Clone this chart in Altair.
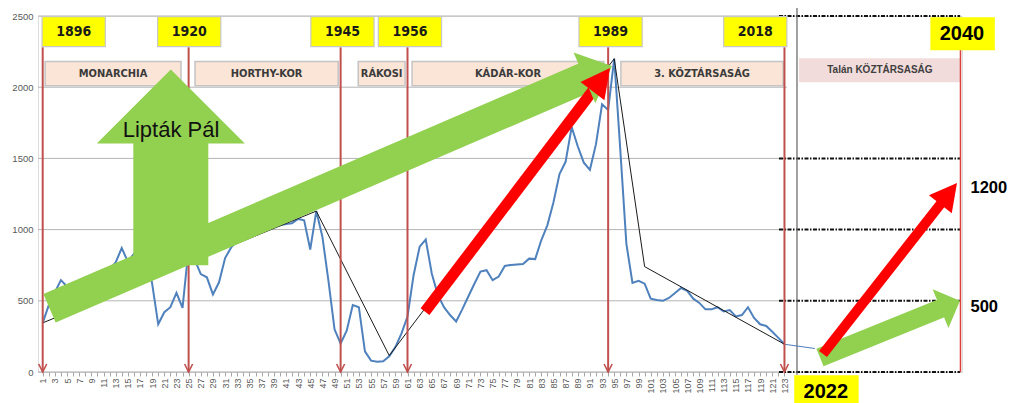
import math
import altair as alt
import pandas as pd

# ---------------- data ----------------
idx = list(range(1, 124))
values = [345, 470, 560, 645, 600, 560, 590, 620, 650, 640,
          690, 720, 770, 870, 775, 830, 880, 850, 620, 335,
          420, 455, 555, 450, 870, 790, 688, 665, 545, 630,
          800, 875, 920, 960, 985, 1000, 1010, 1000, 1020, 1030,
          1040, 1045, 1075, 1065, 860, 1130, 950, 640, 300, 200,
          290, 470, 455, 145, 80, 72, 75, 110, 175, 270,
          390, 680, 880, 930, 690, 540, 455, 400, 355, 440,
          530, 620, 705, 715, 645, 670, 745, 752, 755, 758,
          796, 793, 925, 1030, 1190, 1390, 1476, 1720, 1585, 1470,
          1420, 1600, 1880, 1840, 2200, 1560, 900, 625, 640, 620,
          515, 505, 500, 520, 555, 590, 570, 515, 485, 440,
          440, 455, 425, 435, 390, 400, 455, 380, 335, 323,
          283, 240, 195]
ext_idx = [123, 128]
ext_val = [195, 165]
trend_idx = [1, 46, 58, 95, 100, 123]
trend_val = [345, 1130, 115, 2200, 740, 195]

year_labels = ["1896", "1920", "1945", "1956", "1989", "2018"]
year_idx = [1, 25, 50, 61, 94, 123]
year_box_center = [6.1, 25.1, 50.3, 61.4, 94.4, 118.2]

period_labels = ["MONARCHIA", "HORTHY-KOR", "RÁKOSI", "KÁDÁR-KOR", "3. KÖZTÁRSASÁG"]
period_start = [1.4, 26.05, 52.9, 61.75, 96.1]
period_end = [23.75, 49.6, 60.6, 93.3, 122.8]
future_label = "Talán KÖZTÁRSASÁG"
future_span = [125.4, 152.0]

future_year = "2040"
future_year_idx = 152.2
now_year = "2022"
now_year_idx = 129.8
target_labels = ["1200", "500"]
target_values = [1293, 454]
author = "Lipták Pál"

y_ticks = [0, 500, 1000, 1500, 2000, 2500]
dotted_levels = [0, 500, 1000, 1500, 2500]

# ---------------- scale geometry ----------------
X0, X1 = 0.227, 152.2
Y0, Y1 = 0, 2500
W, H = 924, 356


def px(x):
    return (x - X0) / (X1 - X0) * W


def py(v):
    return H - (v - Y0) / (Y1 - Y0) * H


def ix(p):
    return X0 + p / W * (X1 - X0)


def iy(p):
    return Y0 + (H - p) / H * (Y1 - Y0)


xs = alt.Scale(domain=[X0, X1], nice=False, zero=False)
ys = alt.Scale(domain=[Y0, Y1], nice=False, zero=False)

BLUE = "#4F81BD"
VRED = "#C0504D"
GREEN = "#92D050"
RED = "#FF0000"
NARROW = "'Liberation Sans Narrow', 'DejaVu Sans Condensed', sans-serif"
ARIAL = "'Liberation Sans', Arial, sans-serif"

XAXIS = alt.Axis(
    values=list(range(1, 124)),
    labelExpr="datum.value % 2 == 1 ? datum.label : ''",
    labelAngle=270, labelFontSize=9, labelColor="#595959", labelFont=ARIAL,
    tickSize=4, tickColor="#A6A6A6", domain=False, grid=False, title=None,
    labelOverlap=False, labelFlush=False, labelPadding=2, format="d")
YAXIS = alt.Axis(
    values=y_ticks, grid=False, domain=False, ticks=False, labelPadding=5,
    labelFontSize=9.5, labelColor="#595959", labelFont=ARIAL, title=None, format="d")


def X(f):
    return alt.X(f, scale=xs, axis=XAXIS, title=None)


def Y(f):
    return alt.Y(f, scale=ys, axis=YAXIS, title=None)


# ---------------- arrows ----------------
arrow_specs = [
    # name, tail(idx,val), tip(idx,val), shaft px, head len px, head width px, color
    ("liptak", (22.07, 750), (22.07, 2124), 75, 74, 148, GREEN),
    ("bigGreen", (ix(49.5 - 38), iy(308.3 - 16)), (ix(612 - 38), iy(66 - 16)), 31, 30, 55, GREEN),
    ("bigRed", (ix(425 - 38), iy(311.7 - 16)), (ix(610 - 38), iy(68 - 16)), 11, 29, 30, RED),
    ("smallGreen", (ix(820 - 38), iy(357.5 - 16)), (ix(960 - 38), iy(300.7 - 16)), 19, 21, 42, GREEN),
    ("smallRed", (ix(823 - 38), iy(354 - 16)), (ix(957 - 38), iy(183 - 16)), 10, 27, 29, RED),
]
shaft_rows, head_rows = [], []
for k, (name, tail, tip, sw, hl, hw, col) in enumerate(arrow_specs):
    tx, ty = px(tail[0]), py(tail[1])
    hx, hy = px(tip[0]), py(tip[1])
    dx, dy = hx - tx, hy - ty
    L = math.hypot(dx, dy)
    ux, uy = dx / L, dy / L
    bx, by = hx - ux * (hl - 1), hy - uy * (hl - 1)
    cx, cy = hx - ux * hl / 2, hy - uy * hl / 2
    shaft_rows.append({"a": k, "o": 0, "x": ix(tx), "y": iy(ty), "w": sw, "c": col})
    shaft_rows.append({"a": k, "o": 1, "x": ix(bx), "y": iy(by), "w": sw, "c": col})
    S = max(hl, hw)
    path = f"M {-hl / S:.4f} {-hw / S:.4f} L {hl / S:.4f} 0 L {-hl / S:.4f} {hw / S:.4f} Z"
    ang = math.degrees(math.atan2(dy, dx)) % 360
    head_rows.append({"a": k, "x": ix(cx), "y": iy(cy), "shape": path,
                      "size": S * S, "ang": ang, "c": col})

# ---------------- layers ----------------
main_df = pd.DataFrame({"x": idx, "y": values})
blue = alt.Chart(main_df).mark_line(color=BLUE, strokeWidth=2).encode(x=X("x:Q"), y=Y("y:Q"))

ext = alt.Chart(pd.DataFrame({"x": ext_idx, "y": ext_val})).mark_line(
    color=BLUE, strokeWidth=1.2).encode(x=X("x:Q"), y=Y("y:Q"))

trend = alt.Chart(pd.DataFrame({"x": trend_idx, "y": trend_val})).mark_line(
    color="#1a1a1a", strokeWidth=1).encode(x=X("x:Q"), y=Y("y:Q"))

grid = alt.Chart(pd.DataFrame({"y": y_ticks[1:], "x": X0, "x2": 123.4})).mark_rule(
    color="#B4B4B4", strokeWidth=1).encode(x=X("x:Q"), x2="x2:Q", y=Y("y:Q"))

baseline = alt.Chart(pd.DataFrame({"y": [0], "x": [X0], "x2": [123.2]})).mark_rule(
    color="#A6A6A6", strokeWidth=1).encode(x=X("x:Q"), x2="x2:Q", y=Y("y:Q"))

dotted = alt.Chart(pd.DataFrame({"y": dotted_levels, "x": 122.1, "x2": 151.9})).mark_rule(
    color="#111111", strokeWidth=2, strokeDash=[4, 1.5, 1.5, 1.5]).encode(
    x=X("x:Q"), x2="x2:Q", y=Y("y:Q"))

divider = alt.Chart(pd.DataFrame({"x": [125.06], "y": [-20], "y2": [2590]})).mark_rule(
    color="#6E6E6E", strokeWidth=1.3).encode(x=X("x:Q"), y=Y("y:Q"), y2="y2:Q")

period_df = pd.DataFrame({"label": period_labels, "x": period_start, "x2": period_end,
                          "y": 2010, "y2": 2180})
period_df["xm"] = (period_df["x"] + period_df["x2"]) / 2
period_df["ym"] = 2093
period_box = alt.Chart(period_df).mark_rect(
    fill="#FBE5D6", stroke="#C4C4C4", strokeWidth=1.5).encode(
    x=X("x:Q"), x2="x2:Q", y=Y("y:Q"), y2="y2:Q")
period_text = alt.Chart(period_df).mark_text(
    font=NARROW, fontWeight="bold", fontSize=11, color="#3A3A3A").encode(
    x=X("xm:Q"), y=Y("ym:Q"), text="label:N")

fut_df = pd.DataFrame({"label": [future_label], "x": [future_span[0]], "x2": [future_span[1]],
                       "y": [2035], "y2": [2204], "xm": [sum(future_span) / 2], "ym": [2122]})
fut_box = alt.Chart(fut_df).mark_rect(fill="#F2DCDB").encode(
    x=X("x:Q"), x2="x2:Q", y=Y("y:Q"), y2="y2:Q")
fut_text = alt.Chart(fut_df).mark_text(
    font=ARIAL, fontWeight="bold", fontSize=10, color="#404040").encode(
    x=X("xm:Q"), y=Y("ym:Q"), text="label:N")

vline_df = pd.DataFrame({"x": year_idx, "y": 0, "y2": 2281})
vlines = alt.Chart(vline_df).mark_rule(color=VRED, strokeWidth=2).encode(
    x=X("x:Q"), y=Y("y:Q"), y2="y2:Q")
chevrons = alt.Chart(vline_df).mark_point(
    shape="M -1 -2 L 0 0 L 1 -2", size=64, filled=False, stroke=VRED, strokeWidth=1.6,
    opacity=1).encode(x=X("x:Q"), y=Y("y:Q"))

line2040 = alt.Chart(pd.DataFrame({"x": [future_year_idx - 0.25], "y": [0], "y2": [2262]})).mark_rule(
    color="#D9413F", strokeWidth=1.5).encode(x=X("x:Q"), y=Y("y:Q"), y2="y2:Q")

shafts = alt.Chart(pd.DataFrame(shaft_rows)).mark_line(strokeCap="butt").encode(
    x=X("x:Q"), y=Y("y:Q"),
    detail="a:N", order="o:Q",
    color=alt.Color("c:N", scale=None),
    strokeWidth=alt.StrokeWidth("w:Q", scale=None))
heads = alt.Chart(pd.DataFrame(head_rows)).mark_point(filled=True, opacity=1, strokeWidth=0).encode(
    x=X("x:Q"), y=Y("y:Q"),
    shape=alt.Shape("shape:N", scale=None),
    size=alt.Size("size:Q", scale=None),
    angle=alt.Angle("ang:Q", scale=None),
    color=alt.Color("c:N", scale=None))

ybox_df = pd.DataFrame({"label": year_labels, "xm": year_box_center})
ybox_df["x"] = ybox_df["xm"] - 5.2
ybox_df["x2"] = ybox_df["xm"] + 5.2
ybox_df["y"] = 2285
ybox_df["y2"] = 2495
ybox_df["ym"] = 2388
ybox = alt.Chart(ybox_df).mark_rect(fill="#FFFF00", stroke="#C8C8C8", strokeWidth=1.2).encode(
    x=X("x:Q"), x2="x2:Q", y=Y("y:Q"), y2="y2:Q")
ytext = alt.Chart(ybox_df).mark_text(
    font=NARROW, fontWeight="bold", fontSize=14, color="#1A1A1A").encode(
    x=X("xm:Q"), y=Y("ym:Q"), text="label:N")

big_df = pd.DataFrame({"label": [future_year, now_year],
                       "xm": [future_year_idx, now_year_idx],
                       "ym": [2372, -140]})
big_df["x"] = big_df["xm"] - 5.2
big_df["x2"] = big_df["xm"] + 5.4
big_df["y"] = [2260, -22]
big_df["y2"] = [2491, -230]
bigbox = alt.Chart(big_df).mark_rect(fill="#FFFF00").encode(
    x=X("x:Q"), x2="x2:Q", y=Y("y:Q"), y2="y2:Q")
bigtext = alt.Chart(big_df).mark_text(
    font=ARIAL, fontWeight="bold", fontSize=20, color="#000000").encode(
    x=X("xm:Q"), y=Y("ym:Q"), text="label:N")

tgt_df = pd.DataFrame({"label": target_labels, "y": target_values, "x": 153.6})
tgt_text = alt.Chart(tgt_df).mark_text(
    font=ARIAL, fontWeight="bold", fontSize=16.5, color="#000000", align="left").encode(
    x=X("x:Q"), y=Y("y:Q"), text="label:N")

auth_df = pd.DataFrame({"label": [author], "x": [22.1], "y": [1698]})
auth_text = alt.Chart(auth_df).mark_text(
    font=ARIAL, fontSize=22, color="#111111").encode(
    x=X("x:Q"), y=Y("y:Q"), text="label:N")

chart = alt.layer(
    grid, baseline, dotted, divider, period_box, fut_box, ext, blue, trend,
    vlines, chevrons, line2040, shafts, heads, ybox, bigbox, ytext, bigtext,
    period_text, fut_text, tgt_text, auth_text,
).properties(
    width=W, height=H,
    autosize=alt.AutoSizeParams(type="none"),
    padding={"left": 30, "top": 8, "right": 45, "bottom": 31},
).configure_view(stroke=None).configure(background="white")

chart.save("out.html", embed_options={"renderer": "svg", "actions": False})
